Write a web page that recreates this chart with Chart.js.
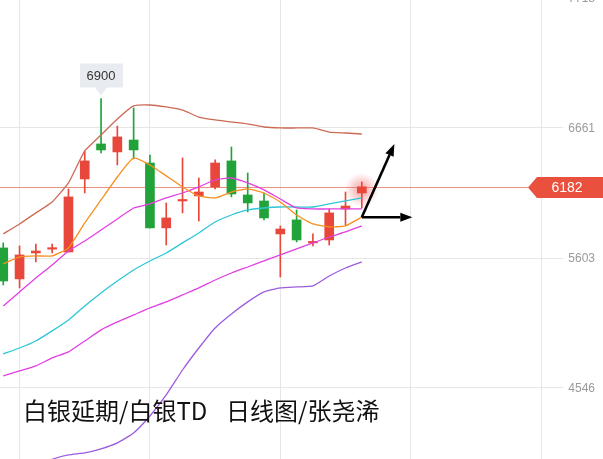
<!DOCTYPE html>
<html>
<head>
<meta charset="utf-8">
<script src="https://cdn.jsdelivr.net/npm/chart.js@4.4.1/dist/chart.umd.min.js"></script>
<style>
  html, body { margin: 0; padding: 0; background: #fff; }
  #wrap { width: 603px; height: 459px; }
</style>
</head>
<body>
<div id="wrap"><canvas id="klineChart" width="603" height="459"></canvas></div>
<script>
/* ===============================
   DATA (daily candles + lines)
================================ */
const days = [0, 1, 2, 3, 4, 5, 6, 7, 8, 9, 10, 11, 12, 13, 14, 15, 16, 17, 18, 19, 20, 21, 22];

const openP  = [5685, 5433, 5644, 5675, 5652, 6246, 6531, 6466, 6563, 6376, 5848, 6067, 6108, 6181, 6393, 6116, 6067, 5799, 5913, 5726, 5750, 6002, 6132];
const highP  = [5726, 5701, 5717, 5717, 6165, 6474, 6900, 6677, 6824, 6441, 6051, 6417, 6254, 6401, 6506, 6295, 6132, 5864, 5994, 5799, 6002, 6140, 6222];
const lowP   = [5384, 5360, 5571, 5644, 5652, 6132, 6458, 6360, 6409, 5848, 5709, 5970, 5904, 6165, 6100, 5978, 5913, 5449, 5734, 5701, 5709, 5872, 6010];
const closeP = [5416, 5628, 5660, 5677, 6100, 6393, 6482, 6588, 6482, 5848, 5929, 6075, 6140, 6376, 6124, 6051, 5929, 5839, 5750, 5728, 5970, 6026, 6182];

const upperBand = [5799, 5880, 5970, 6059, 6214, 6474, 6604, 6734, 6840, 6848, 6832, 6807, 6750, 6726, 6710, 6694, 6669, 6661, 6661, 6661, 6628, 6620, 6612];
const ma5       = [5555, 5612, 5620, 5620, 5685, 5888, 6075, 6262, 6417, 6360, 6271, 6181, 6108, 6092, 6140, 6165, 6132, 6059, 5953, 5880, 5856, 5864, 5937];
const ma10      = [5213, 5327, 5441, 5547, 5660, 5742, 5831, 5921, 6010, 6043, 6092, 6132, 6181, 6238, 6254, 6214, 6157, 6083, 6010, 6002, 6002, 6002, 6002];
const ma20      = [4823, 4871, 4928, 5010, 5099, 5213, 5319, 5416, 5506, 5579, 5644, 5726, 5807, 5896, 5953, 5994, 6010, 6018, 6018, 6018, 6043, 6067, 6092];
const ma60      = [4644, 4684, 4725, 4790, 4839, 4928, 5018, 5083, 5140, 5197, 5246, 5303, 5360, 5424, 5481, 5530, 5579, 5628, 5677, 5726, 5774, 5815, 5864];
const lowerBand = [3700, 3800, 3900, 3965, 4001, 4017, 4050, 4099, 4180, 4318, 4489, 4692, 4871, 5034, 5148, 5246, 5327, 5360, 5368, 5376, 5457, 5522, 5571];

const yTicks = [4546, 5603, 6661, 7718];
const gridDays = [1, 9, 17, 25, 33];

const lastPrice = 6182;
const peakDay = 6;
const peakText = "6900";
const titleText = "白银延期/白银TD  日线图/张尧浠";

// hand-drawn arrows, in (day, price)
const arrowFrom = [22, 5935];
const arrowUp = [24, 6530];
const arrowFlat = [25.1, 5935];

/* ===============================
   COLORS
================================ */
const RED = "#e8473b";
const GREEN = "#22a33a";

const candleColor = days.map((d, i) => (closeP[i] >= openP[i] ? RED : GREEN));
const pts = (arr) => days.map((d, i) => ({ x: d, y: arr[i] }));

function lineSet(data, color) {
  return {
    type: "line",
    data: pts(data),
    borderColor: color,
    borderWidth: 1.3,
    pointRadius: 0,
    tension: 0.15,
    order: 0,
  };
}

/* ===============================
   OVERLAY PLUGIN
================================ */
function drawArrow(ctx, x1, y1, x2, y2) {
  const ang = Math.atan2(y2 - y1, x2 - x1);
  const head = 12, half = 4.5;
  const bx = x2 - head * Math.cos(ang), by = y2 - head * Math.sin(ang);
  ctx.beginPath();
  ctx.moveTo(x1, y1);
  ctx.lineTo(bx, by);
  ctx.stroke();
  ctx.beginPath();
  ctx.moveTo(x2, y2);
  ctx.lineTo(bx + half * Math.sin(ang), by - half * Math.cos(ang));
  ctx.lineTo(bx - half * Math.sin(ang), by + half * Math.cos(ang));
  ctx.closePath();
  ctx.fill();
}

const overlay = {
  id: "overlay",
  beforeDatasetsDraw(chart) {
    const { ctx, chartArea, scales: { x, y } } = chart;
    const last = days.length - 1;
    ctx.save();

    // price labels of the y scale (inside, right side, white backdrop)
    ctx.font = "12px 'Liberation Sans', Arial, sans-serif";
    ctx.textAlign = "right";
    ctx.textBaseline = "middle";
    y.ticks.forEach((t) => {
      const ty = y.getPixelForValue(t.value);
      const label = String(t.value);
      const w = ctx.measureText(label).width;
      ctx.fillStyle = "#fff";
      ctx.fillRect(chartArea.right - 8 - w - 5, ty - 8, w + 13, 16);
      ctx.fillStyle = "#9a9a9a";
      ctx.fillText(label, chartArea.right - 8, ty + 1);
    });

    // glow behind last candle
    const gx = x.getPixelForValue(days[last]);
    const gy = y.getPixelForValue((openP[last] + closeP[last]) / 2);
    const g = ctx.createRadialGradient(gx, gy, 0, gx, gy, 17);
    g.addColorStop(0, "rgba(240,60,60,0.5)");
    g.addColorStop(1, "rgba(240,60,60,0)");
    ctx.fillStyle = g;
    ctx.beginPath();
    ctx.arc(gx, gy, 17, 0, Math.PI * 2);
    ctx.fill();

    // last price line
    const py = Math.round(y.getPixelForValue(lastPrice)) + 0.5;
    ctx.strokeStyle = "rgba(228,118,100,0.8)";
    ctx.lineWidth = 1;
    ctx.beginPath();
    ctx.moveTo(chartArea.left, py);
    ctx.lineTo(chartArea.right - 75, py);
    ctx.stroke();
    ctx.restore();
  },
  afterDatasetsDraw(chart) {
    const { ctx, chartArea, scales: { x, y } } = chart;
    ctx.save();

    // price tag on the right
    const py = Math.round(y.getPixelForValue(lastPrice));
    const r = chartArea.right;
    ctx.fillStyle = "#e9503e";
    ctx.beginPath();
    ctx.moveTo(r - 75, py + 0.5);
    ctx.lineTo(r - 66, py - 10);
    ctx.lineTo(r, py - 10);
    ctx.lineTo(r, py + 11);
    ctx.lineTo(r - 66, py + 11);
    ctx.closePath();
    ctx.fill();
    ctx.fillStyle = "#fff";
    ctx.font = "14px 'Liberation Sans', Arial, sans-serif";
    ctx.textAlign = "center";
    ctx.textBaseline = "middle";
    ctx.fillText(String(lastPrice), r - 36, py + 1);

    // peak callout
    const cx = x.getPixelForValue(days[peakDay]);
    const cy = y.getPixelForValue(highP[peakDay]) - 3;
    ctx.fillStyle = "#e8ecf0";
    ctx.beginPath();
    ctx.moveTo(cx, cy);
    ctx.lineTo(cx - 6, cy - 8);
    ctx.lineTo(cx - 21, cy - 8);
    ctx.lineTo(cx - 21, cy - 32);
    ctx.lineTo(cx + 22, cy - 32);
    ctx.lineTo(cx + 22, cy - 8);
    ctx.lineTo(cx + 6, cy - 8);
    ctx.closePath();
    ctx.fill();
    ctx.fillStyle = "#333";
    ctx.font = "13px 'Liberation Sans', Arial, sans-serif";
    ctx.fillText(peakText, cx, cy - 19.5);

    // arrows
    ctx.strokeStyle = "#000";
    ctx.fillStyle = "#000";
    ctx.lineWidth = 2.6;
    const ax = x.getPixelForValue(arrowFrom[0]), ay = y.getPixelForValue(arrowFrom[1]);
    drawArrow(ctx, ax, ay, x.getPixelForValue(arrowUp[0]), y.getPixelForValue(arrowUp[1]));
    drawArrow(ctx, ax, ay, x.getPixelForValue(arrowFlat[0]), y.getPixelForValue(arrowFlat[1]));

    // caption
    ctx.fillStyle = "#111";
    ctx.font = "24px 'Noto Sans CJK SC', sans-serif";
    ctx.wordSpacing = "4px";
    ctx.textAlign = "left";
    ctx.textBaseline = "alphabetic";
    ctx.fillText(titleText, chartArea.left + 23, 420);
    ctx.restore();
  },
};

/* ===============================
   CHART
================================ */
const el = document.getElementById("klineChart");

new Chart(el, {
  type: "bar",
  data: {
    datasets: [
      lineSet(upperBand, "#cc6a56"),
      lineSet(ma5, "#f7901e"),
      lineSet(ma10, "#e23fe2"),
      lineSet(ma20, "#2dc6d6"),
      lineSet(ma60, "#e040e0"),
      lineSet(lowerBand, "#9b5ce0"),
      {
        // wicks
        data: days.map((d, i) => ({ x: d, y: [lowP[i], highP[i]] })),
        backgroundColor: candleColor,
        barThickness: 1,
        grouped: false,
        order: 1,
      },
      {
        // bodies
        data: days.map((d, i) => ({ x: d, y: [openP[i], closeP[i]] })),
        backgroundColor: candleColor,
        barThickness: 9,
        minBarLength: 1.5,
        grouped: false,
        order: 1,
      },
    ],
  },
  options: {
    responsive: false,
    animation: false,
    devicePixelRatio: 1,
    layout: { padding: 0 },
    plugins: {
      legend: { display: false },
      tooltip: { enabled: false },
    },
    scales: {
      x: {
        type: "linear",
        min: -0.2,
        max: 36.8,
        offset: false,
        afterBuildTicks: (s) => { s.ticks = gridDays.map((v) => ({ value: v })); },
        ticks: { display: false },
        grid: { color: "#e6e6e6", drawTicks: false, offset: false },
        border: { display: false },
      },
      y: {
        position: "right",
        min: 3968,
        max: 7702,
        afterBuildTicks: (s) => { s.ticks = yTicks.map((v) => ({ value: v })); },
        ticks: { display: false },
        grid: { color: "#e6e6e6", drawTicks: false },
        border: { display: false },
      },
    },
  },
  plugins: [overlay],
});
</script>
</body>
</html>
